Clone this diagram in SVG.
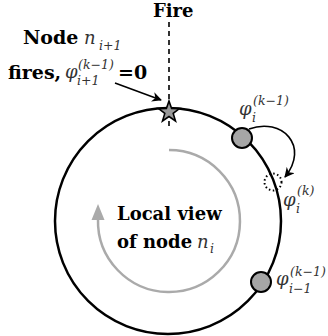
<svg xmlns="http://www.w3.org/2000/svg" width="328" height="336" viewBox="0 0 328 336">
<style>
.lbl{font-family:"DejaVu Serif","Liberation Serif",serif;font-weight:bold;font-size:18px;fill:#000}
.big{font-size:19px}
.m{font-family:"DejaVu Serif","Liberation Serif",serif;font-style:italic;font-size:18px;fill:#333}
.s{font-family:"DejaVu Serif","Liberation Serif",serif;font-style:italic;font-size:12.5px;fill:#333}
.node{fill:#a6a6a6;stroke:#000;stroke-width:2}
.conn{fill:none;stroke:#000;stroke-width:1.6}
</style>
<defs>
<marker id="ah" viewBox="0 0 10 10" refX="9" refY="5" markerWidth="10" markerHeight="10" orient="auto" markerUnits="userSpaceOnUse">
<path d="M0,0 L10,5 L0,10 L3,5 Z" fill="#000"/>
</marker>
</defs>
<rect width="328" height="336" fill="#fff"/>
<circle cx="168" cy="221" r="113" fill="none" stroke="#000" stroke-width="2.5"/>
<g id="connectors">
<path d="M169,150 A71,71 0 1 1 98,219" fill="none" stroke="#aaa" stroke-width="2.5"/>
<polygon points="98,204 91.5,220 104.5,220" fill="#aaa"/>
<line x1="169" y1="22" x2="169" y2="128" class="conn" stroke-dasharray="5,4"/>
<line x1="115" y1="83" x2="161" y2="100" class="conn" marker-end="url(#ah)" stroke-width="1.5"/>
<path d="M249,129 C282,117 310,146 285,177" class="conn" stroke-width="2" marker-end="url(#ah)"/>
</g>
<g id="star">
<polygon points="169,101 171.6,108.4 179.5,108.6 173.2,113.4 175.5,121 169,116.5 162.5,121 164.8,113.4 158.5,108.6 166.4,108.4" fill="#999" stroke="#000" stroke-width="1.6" stroke-linejoin="miter"/>
</g>
<g id="node-i">
<circle cx="242" cy="138" r="10" class="node"/>
</g>
<g id="node-i-next">
<circle cx="273" cy="182" r="8.5" fill="none" stroke="#000" stroke-width="2" stroke-dasharray="1.5,2.5"/>
</g>
<g id="node-i-1">
<circle cx="261" cy="282" r="10" class="node"/>
</g>
<g id="labels">
<text x="153" y="17" class="lbl">Fire</text>
<text x="23" y="44" class="lbl big">Node</text>
<text x="84" y="44" class="m">n</text>
<text x="99" y="50" class="s">i+1</text>
<text x="8" y="79" class="lbl big">fires,</text>
<text x="65" y="78" class="m">φ</text>
<text x="78" y="69" class="s">(k−1)</text>
<text x="77" y="85" class="s">i+1</text>
<text x="118" y="79" class="lbl big">=0</text>
<text x="239" y="115" class="m">φ</text>
<text x="252" y="122" class="s">i</text>
<text x="253" y="105" class="s">(k−1)</text>
<text x="283" y="206" class="m">φ</text>
<text x="296" y="213" class="s">i</text>
<text x="297" y="195" class="s">(k)</text>
<text x="276" y="285" class="m">φ</text>
<text x="289" y="293" class="s">i−1</text>
<text x="290" y="276" class="s">(k−1)</text>
<text x="117" y="220" class="lbl">Local view</text>
<text x="117" y="248" class="lbl">of node</text>
<text x="197" y="248" class="m">n</text>
<text x="210" y="253" class="s">i</text>
</g>
</svg>
